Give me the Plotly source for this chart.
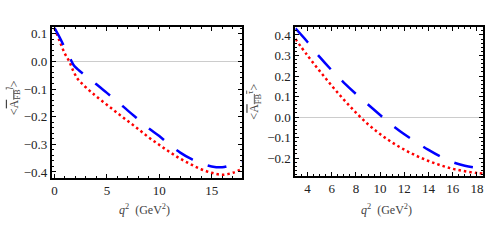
import plotly.graph_objects as go

# ---- data ----
q2_l_blue = [0, 0.5, 1, 1.5, 1.8, 2.2, 3, 4, 5, 6, 7, 8, 9, 10, 11, 12, 13, 14, 15, 16, 17, 18]
afb_l_blue = [0.12, 0.086, 0.047, 0.01, -0.012, -0.028, -0.053, -0.083, -0.114, -0.145, -0.178,
              -0.21, -0.242, -0.27, -0.302, -0.33, -0.352, -0.369, -0.38, -0.383, -0.373, -0.36]
q2_l_red = [0, 0.5, 1, 1.4, 1.8, 2.2, 2.6, 3, 3.5, 4, 5, 6, 7, 8, 9, 10, 11, 12, 13, 14, 15, 16, 17, 18]
afb_l_red = [0.12, 0.072, 0.027, 0.0, -0.035, -0.063, -0.08, -0.094, -0.111, -0.127, -0.157, -0.187,
             -0.216, -0.245, -0.275, -0.302, -0.328, -0.352, -0.372, -0.39, -0.403, -0.41, -0.403, -0.387]

q2_t = [3, 4, 5, 6, 7, 8, 9, 10, 11, 12, 13, 14, 15, 16, 17, 18, 18.6]
afb_t_blue = [0.432, 0.366, 0.293, 0.228, 0.168, 0.113, 0.061, 0.01, -0.04, -0.084, -0.123,
              -0.16, -0.193, -0.22, -0.237, -0.247, -0.251]
afb_t_red = [0.38, 0.30, 0.225, 0.153, 0.085, 0.022, -0.035, -0.083, -0.124, -0.159, -0.189,
             -0.214, -0.235, -0.252, -0.264, -0.273, -0.276]

W, H = 486, 242
BLUE = "#0000ff"
RED = "#ff0000"
DASH = "19px,16px"
DOT = "2.5px,3px"

fig = go.Figure()
fig.add_trace(go.Scatter(x=q2_l_red, y=afb_l_red, mode="lines", xaxis="x", yaxis="y",
                         line=dict(color=RED, width=2.5, dash=DOT, shape="spline"), showlegend=False))
fig.add_trace(go.Scatter(x=q2_l_blue, y=afb_l_blue, mode="lines", xaxis="x", yaxis="y",
                         line=dict(color=BLUE, width=2.5, dash=DASH, shape="spline"), showlegend=False))
fig.add_trace(go.Scatter(x=q2_t, y=afb_t_red, mode="lines", xaxis="x2", yaxis="y2",
                         line=dict(color=RED, width=2.5, dash=DOT, shape="spline"), showlegend=False))
fig.add_trace(go.Scatter(x=q2_t, y=afb_t_blue, mode="lines", xaxis="x2", yaxis="y2",
                         line=dict(color=BLUE, width=2.5, dash=DASH, shape="spline"), showlegend=False))

tickfont = dict(family="Liberation Serif", size=13, color="#222")
common = dict(showline=True, linecolor="black", linewidth=2, mirror="allticks",
              ticks="inside", ticklen=4, tickwidth=1, tickcolor="black",
              showgrid=False, tickfont=tickfont)

fig.update_layout(
    width=W, height=H, margin=dict(l=0, r=0, t=0, b=0),
    paper_bgcolor="white", plot_bgcolor="white",
    xaxis=dict(domain=[51 / W, 241 / W], range=[-0.25, 17.85], tickvals=[0, 5, 10, 15],
               anchor="y", zeroline=False,
               minor=dict(ticks="inside", ticklen=2, dtick=1, tick0=0, tickcolor="black"), **common),
    yaxis=dict(domain=[1 - 179 / H, 1 - 27 / H], range=[-0.42, 0.125],
               tickvals=[-0.4, -0.3, -0.2, -0.1, 0.0, 0.1], tickformat=".1f",
               anchor="x", zeroline=True, zerolinecolor="#cccccc", zerolinewidth=1,
               minor=dict(ticks="inside", ticklen=2, dtick=0.02, tick0=0, tickcolor="black"), **common),
    xaxis2=dict(domain=[295 / W, 483 / W], range=[3, 18.5], tickvals=[4, 6, 8, 10, 12, 14, 16, 18],
                anchor="y2", zeroline=False,
                minor=dict(ticks="inside", ticklen=2, dtick=0.5, tick0=0, tickcolor="black"), **common),
    yaxis2=dict(domain=[1 - 177 / H, 1 - 27 / H], range=[-0.285, 0.44],
                tickvals=[-0.2, -0.1, 0.0, 0.1, 0.2, 0.3, 0.4], tickformat=".1f",
                anchor="x2", zeroline=True, zerolinecolor="#cccccc", zerolinewidth=1,
                minor=dict(ticks="inside", ticklen=2, dtick=0.02, tick0=0, tickcolor="black"), **common),
)

labfont = dict(family="Liberation Serif", size=12, color="#444")
xtitle = "<i>q</i><sup>2</sup>  (GeV<sup>2</sup>)"
ann = [
    dict(x=144 / W, y=1 - 211 / H, text=xtitle),
    dict(x=386 / W, y=1 - 211 / H, text=xtitle),
    dict(x=13 / W, y=1 - 98 / H, textangle=-90,
         text='&lt;<span style="text-decoration:overline">A<sub>FB</sub><sup><i>l</i></sup></span>&gt;'),
    dict(x=254 / W, y=1 - 102 / H, textangle=-90,
         text='&lt;<span style="text-decoration:overline">A<sub>FB</sub><sup>τ</sup></span>&gt;'),
]
for a in ann:
    fig.add_annotation(xref="paper", yref="paper", showarrow=False, font=labfont,
                       xanchor="center", yanchor="middle", **a)

fig.write_html("out.html", post_script="document.body.style.margin='0px';",
               config={"displayModeBar": False})
